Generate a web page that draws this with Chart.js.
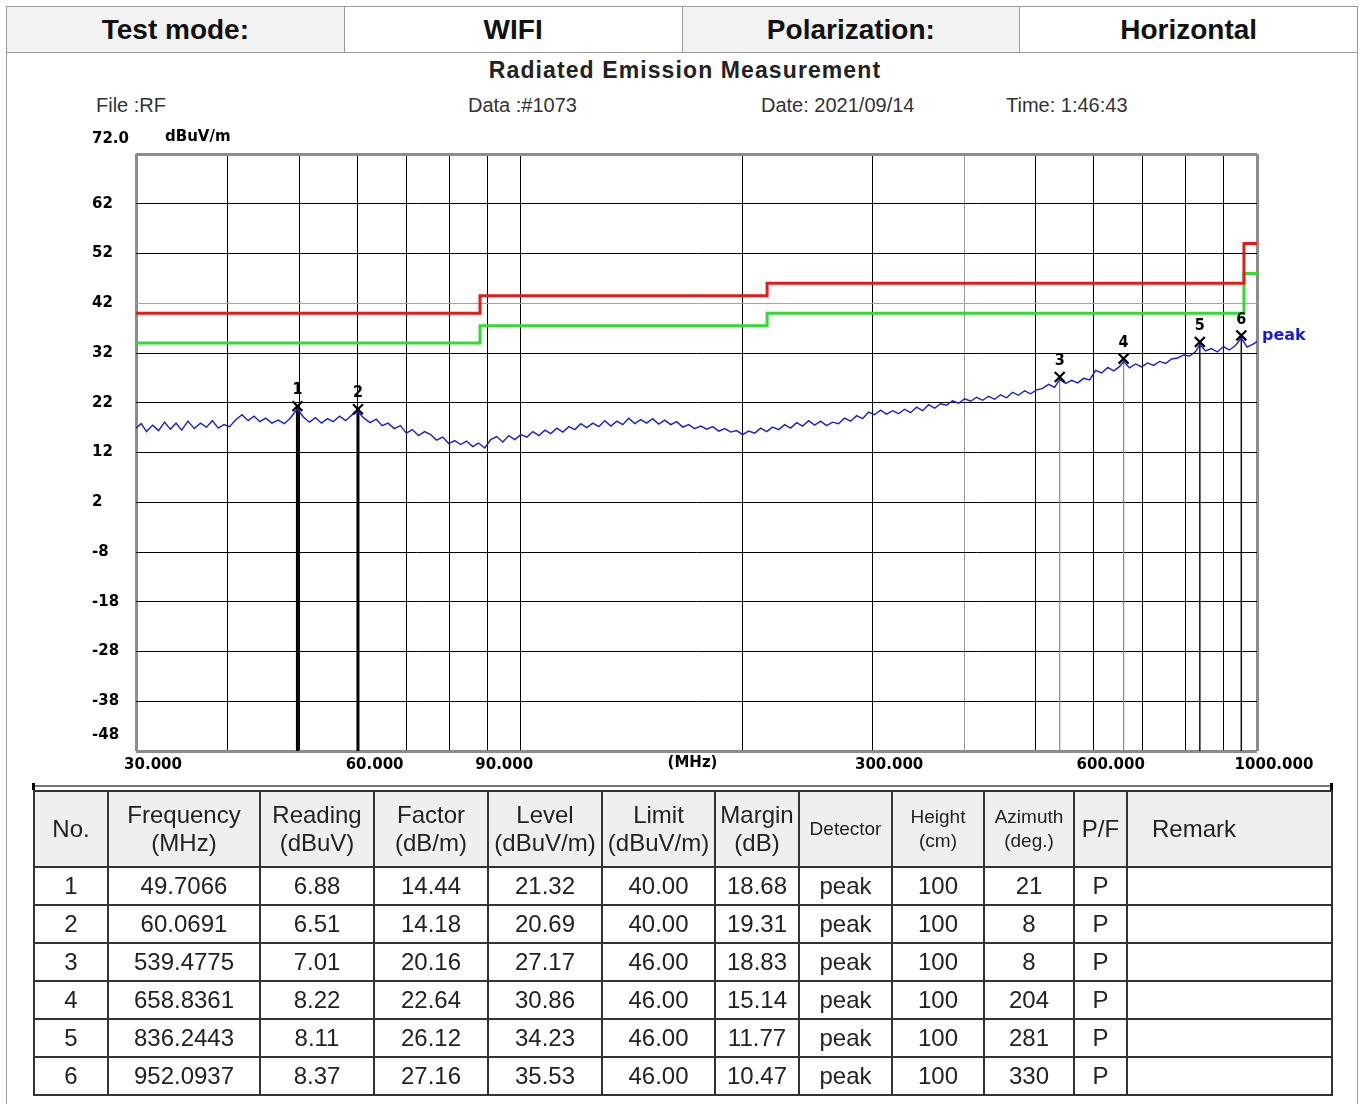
<!DOCTYPE html>
<html><head><meta charset="utf-8">
<script src="https://cdn.jsdelivr.net/npm/chart.js@4/dist/chart.umd.min.js"></script>
<style>
html,body{margin:0;padding:0;background:#fff;}
body{width:1362px;height:1104px;position:relative;overflow:hidden;font-family:"Liberation Sans",Arial,sans-serif;}
#frame{position:absolute;left:6px;top:6px;width:1352px;height:1120px;border:1px solid #a0a0a0;box-sizing:border-box;}
#hdr{position:absolute;left:6px;top:6px;width:1352px;height:47px;border-collapse:collapse;table-layout:fixed;}
#hdr td{border:1px solid #9a9a9a;font-weight:bold;font-size:28px;text-align:center;color:#111;padding:0;height:45px;}
#hdr td.g{background:#f2f2f2;}
#title{position:absolute;left:0;top:58px;width:1370px;text-align:center;font-weight:bold;font-size:23px;letter-spacing:1.1px;line-height:24px;color:#222;}
.info{position:absolute;top:93px;font-size:20px;line-height:24px;color:#333;white-space:nowrap;}
#chartBox{position:absolute;left:0;top:110px;width:1362px;height:680px;}
#sep{position:absolute;left:33px;top:785px;width:1300px;height:2px;background:#777;}
.blk{position:absolute;top:783px;width:3px;height:7px;background:#000;}
#tbl{position:absolute;left:33px;top:790px;width:1298px;border-collapse:collapse;table-layout:fixed;color:#222;}
#tbl td,#tbl th{border:2px solid #333;padding:0;text-align:center;font-weight:normal;font-size:24px;}
#tbl th{background:#efefef;height:74px;line-height:28px;}
#tbl td{height:36px;line-height:36px;}
#tbl th.s{font-size:19px;line-height:24px;}
#tbl .rm{text-align:left;padding-left:24px;}
</style></head>
<body>
<div id="frame"></div>
<table id="hdr"><tr><td class="g">Test mode:</td><td>WIFI</td><td class="g">Polarization:</td><td>Horizontal</td></tr></table>
<div id="title">Radiated Emission Measurement</div>
<div class="info" style="left:96px">File :RF</div>
<div class="info" style="left:468px">Data :#1073</div>
<div class="info" style="left:761px">Date: 2021/09/14</div>
<div class="info" style="left:1006px">Time: 1:46:43</div>
<div id="chartBox"><canvas id="c"></canvas></div>
<div id="sep"></div><div class="blk" style="left:32px"></div><div class="blk" style="left:1330px"></div>
<table id="tbl"><colgroup id="cg"></colgroup><thead><tr id="th"></tr></thead><tbody id="tb"></tbody></table>
<script>
// ---- data ----
const xGridFreqs = [30,40,50,60,70,80,90,100,200,300,400,500,600,700,800,900,1000];
const xTickValues = [30,60,90,300,600,1000];
const xTickLabels = ['30.000','60.000','90.000','300.000','600.000','1000.000'];
const yTickValues = [72,62,52,42,32,22,12,2,-8,-18,-28,-38,-48];
const yTickLabels = ['72.0','62','52','42','32','22','12','2','-8','-18','-28','-38','-48'];

const limitFreq = [30, 88, 216, 960, 1000];
const limitLevel = [40, 43.5, 46, 54, 54];
const marginLevel = [34, 37.5, 40, 48, 48];

const traceFreq = [30,30.5,31,31.6,32.2,32.8,33.4,34,34.6,35.3,36,36.7,37.4,38.1,38.8,39.5,40.2,41,41.8,42.6,43.4,44.2,45,45.9,46.8,47.7,48.6,49.7,50.6,51.6,52.6,53.6,54.6,55.6,56.7,57.8,58.9,60.07,61.2,62.4,63.6,64.8,66,67.3,68.6,69.9,71.2,72.6,74,75.4,76.8,78.3,79.8,81.3,82.8,84.4,86,87.6,89.3,91,92.7,94.5,96.3,98.1,100,
101.9,103.8,105.8,107.8,109.8,111.9,114,116.2,118.4,120.6,122.9,125.2,127.6,130,132.5,135,137.5,140.1,142.8,145.5,148.2,151,153.9,156.8,159.8,162.8,165.9,169,172.2,175.5,178.8,182.2,185.7,189.2,192.8,196.4,200.1,203.9,207.8,211.7,215.7,219.8,224,228.2,232.5,236.9,241.4,246,250.6,255.4,260.2,265.1,270.1,275.2,280.5,285.8,291.2,296.7,302.3,308,313.9,319.8,325.9,332.1,338.4,344.8,351.3,358,364.8,371.7,378.7,385.9,393.2,400.7,408.3,416,423.9,431.9,440.1,448.4,456.9,465.6,474.4,483.4,492.6,501.9,511.4,521.1,531,539.5,549.7,560.1,570.7,581.5,592.5,603.7,615.2,626.9,638.8,650.9,658.8,671.3,684,697,710.2,723.7,737.4,751.4,765.6,780.1,794.9,810,825.4,836.2,851.1,867.2,883.6,900.4,917.5,934.9,952.1,969.4,987.8,1000];
const traceLevel = [16.9,17.8,16.2,17.5,16.4,18.1,16.7,17.9,16.5,18.3,16.8,17.9,17.1,18.4,16.9,17.6,17.2,18.6,19.6,18.4,19.3,18.2,18.9,17.9,18.5,17.8,18.9,20.8,19.2,18.1,19.0,17.9,18.8,18.2,19.3,18.4,19.5,20.2,18.9,18.0,18.7,17.4,17.9,16.8,17.4,15.9,16.6,15.4,16.2,15.6,14.5,15.1,13.8,14.4,13.6,14.3,13.2,13.9,12.9,14.6,15.2,14.1,15.4,14.6,15.6,
15.1,16.2,15.4,16.5,15.8,16.9,16.1,17.2,16.6,17.8,17.0,17.9,17.2,18.4,17.3,18.3,17.6,18.9,17.8,18.6,17.9,18.8,17.7,18.5,17.6,18.2,17.1,17.6,16.8,17.3,16.7,17.2,16.3,16.8,16.1,16.4,15.6,16.3,15.9,16.9,16.2,17.1,16.6,17.6,16.9,18.0,17.3,18.4,17.5,18.3,17.4,18.1,17.8,18.9,18.3,19.4,18.8,20.1,19.6,20.5,19.7,20.4,19.8,20.7,20.0,21.1,20.4,21.6,20.9,21.8,21.5,22.4,21.9,22.8,22.3,23.1,22.5,23.3,22.7,23.6,23.0,24.1,23.5,24.4,23.8,24.6,24.9,25.7,25.1,26.7,25.9,26.5,26.0,26.9,26.6,28.5,28.0,29.1,28.4,29.3,30.3,29.0,29.8,29.2,30.0,29.5,30.3,29.9,30.8,31.0,31.6,31.4,32.3,33.7,32.4,32.9,32.2,33.3,32.6,33.5,35.0,33.2,33.8,34.3];

const markerNo = [1,2,3,4,5,6];
const markerFreq = [49.7066,60.0691,539.4775,658.8361,836.2443,952.0937];
const markerFreqText = ['49.7066','60.0691','539.4775','658.8361','836.2443','952.0937'];
const markerReading = ['6.88','6.51','7.01','8.22','8.11','8.37'];
const markerFactor = ['14.44','14.18','20.16','22.64','26.12','27.16'];
const markerLevel = [21.32,20.69,27.17,30.86,34.23,35.53];
const markerLimit = ['40.00','40.00','46.00','46.00','46.00','46.00'];
const markerMargin = ['18.68','19.31','18.83','15.14','11.77','10.47'];
const markerDetector = ['peak','peak','peak','peak','peak','peak'];
const markerHeight = ['100','100','100','100','100','100'];
const markerAzimuth = ['21','8','8','204','281','330'];
const markerPF = ['P','P','P','P','P','P'];

const tableHeaders = ['No.','Frequency<br>(MHz)','Reading<br>(dBuV)','Factor<br>(dB/m)','Level<br>(dBuV/m)','Limit<br>(dBuV/m)','Margin<br>(dB)','Detector','Height<br>(cm)','Azimuth<br>(deg.)','P/F','Remark'];

// ---- table ----
const colW = [74,152,114,114,114,113,84,93,92,90,53,205];
document.getElementById('cg').innerHTML = colW.map(w=>`<col style="width:${w}px">`).join('');
document.getElementById('th').innerHTML = tableHeaders.map((h,i)=>{
  const cls = (i>=7 && i<=9) ? 's' : (i===11 ? 'rm' : '');
  return `<th class="${cls}">${h}</th>`;
}).join('');
document.getElementById('tb').innerHTML = markerNo.map((n,i)=>`<tr><td>${n}</td><td>${markerFreqText[i]}</td><td>${markerReading[i]}</td><td>${markerFactor[i]}</td><td>${markerLevel[i].toFixed(2)}</td><td>${markerLimit[i]}</td><td>${markerMargin[i]}</td><td>${markerDetector[i]}</td><td>${markerHeight[i]}</td><td>${markerAzimuth[i]}</td><td>${markerPF[i]}</td><td></td></tr>`).join('');

// ---- chart ----
const axisFont = {family:'"DejaVu Sans"', weight:'bold', size:15};
const deco = {
  id:'deco',
  beforeDatasetsDraw(chart){
    const {ctx, chartArea, scales:{x,y}} = chart;
    ctx.save();
    markerFreq.forEach((f,i)=>{
      const px = x.getPixelForValue(f), py = y.getPixelForValue(markerLevel[i]);
      ctx.beginPath();
      ctx.strokeStyle = i<2 ? '#000' : (i<4 ? '#8a8a8a' : '#111');
      ctx.lineWidth = i<2 ? 3 : (i<4 ? 1.2 : 1.5);
      ctx.moveTo(px, py); ctx.lineTo(px, chartArea.bottom);
      ctx.stroke();
    });
    ctx.restore();
  },
  afterDraw(chart){
    const {ctx, chartArea, scales:{x,y}} = chart;
    ctx.save();
    ctx.fillStyle = '#000';
    ctx.font = 'bold 15px "DejaVu Sans"';
    ctx.textBaseline = 'middle';
    ctx.textAlign = 'left';
    ctx.fillText(yTickLabels[0], y.left, y.getPixelForValue(yTickValues[0]) - 15);
    ctx.fillText(yTickLabels[yTickLabels.length-1], y.left, y.getPixelForValue(yTickValues[yTickValues.length-1]) - 16);
    ctx.fillText('dBuV/m', chartArea.left + 29, chartArea.top - 17);
    ctx.textAlign = 'center';
    ctx.fillText('(MHz)', (chartArea.left+chartArea.right)/2 - 4, chartArea.bottom + 12);
    ctx.font = 'bold 16px "DejaVu Sans Condensed"';
    markerFreq.forEach((f,i)=>{
      const px = x.getPixelForValue(f), py = y.getPixelForValue(markerLevel[i]);
      ctx.fillText(String(markerNo[i]), px, py - 16);
    });
    ctx.fillStyle = '#1a1ad6';
    ctx.font = 'bold 16px "DejaVu Sans"';
    ctx.textAlign = 'left';
    ctx.fillText('peak', chartArea.right + 5, y.getPixelForValue(traceLevel[traceLevel.length-1]) - 6);
    ctx.restore();
  }
};

new Chart(document.getElementById('c'), {
  type:'line',
  data:{
    datasets:[
      {label:'markers', type:'scatter', data: markerFreq.map((f,i)=>({x:f,y:markerLevel[i]})),
        pointStyle:'crossRot', pointRadius:7, borderColor:'#000', backgroundColor:'#000', pointBorderWidth:2.2, showLine:false},
      {label:'peak', data: traceFreq.map((f,i)=>({x:f,y:traceLevel[i]})),
        borderColor:'#1c1cd2', borderWidth:1.4, pointRadius:0, tension:0},
      {label:'limit', data: limitFreq.map((f,i)=>({x:f,y:limitLevel[i]})),
        borderColor:'#e41b17', borderWidth:3, pointRadius:0, stepped:'before'},
      {label:'margin', data: limitFreq.map((f,i)=>({x:f,y:marginLevel[i]})),
        borderColor:'#2fdc2f', borderWidth:3, pointRadius:0, stepped:'before'}
    ]
  },
  options:{
    responsive:true, maintainAspectRatio:false, animation:false,
    layout:{padding:{left:92, right:105, top:44, bottom:9}},
    plugins:{legend:{display:false}, tooltip:{enabled:false}, title:{display:false}},
    scales:{
      x:{type:'logarithmic', min:30, max:1000,
        afterBuildTicks:s=>{ s.ticks = xGridFreqs.map(v=>({value:v})); },
        afterFit:s=>{ s.height = 30; s.paddingLeft = 0; s.paddingRight = 0; },
        border:{display:false},
        grid:{drawTicks:false,
          color:c=>(c.tick && (c.tick.value===30||c.tick.value===1000)) ? '#8c8c8c' : (c.tick && c.tick.value===400 ? '#9a9a9a' : '#000'),
          lineWidth:c=>(c.tick && (c.tick.value===30||c.tick.value===1000)) ? 3 : 1},
        ticks:{autoSkip:false, maxRotation:0, minRotation:0, labelOffset:17, padding:5, color:'#000', font:axisFont,
          callback:(v)=>{ const k = xTickValues.indexOf(v); return k>=0 ? xTickLabels[k] : ''; }}
      },
      y:{type:'linear', min:-48, max:72,
        afterBuildTicks:s=>{ s.ticks = yTickValues.map(v=>({value:v})); },
        afterFit:s=>{ s.width = 44; s.paddingTop = 0; s.paddingBottom = 0; },
        border:{display:false},
        grid:{drawTicks:false,
          color:c=>(c.tick && (c.tick.value===72||c.tick.value===-48)) ? '#8c8c8c' : (c.tick && c.tick.value===42 ? '#9aa6b4' : '#000'),
          lineWidth:c=>(c.tick && (c.tick.value===72||c.tick.value===-48)) ? 3 : 1},
        ticks:{crossAlign:'far', padding:0, color:'#000', font:axisFont,
          callback:(v)=>{ if (v===yTickValues[0] || v===yTickValues[yTickValues.length-1]) return ''; const k = yTickValues.indexOf(v); return k>=0 ? yTickLabels[k] : ''; }}
      }
    }
  },
  plugins:[deco]
});
</script>
</body></html>
